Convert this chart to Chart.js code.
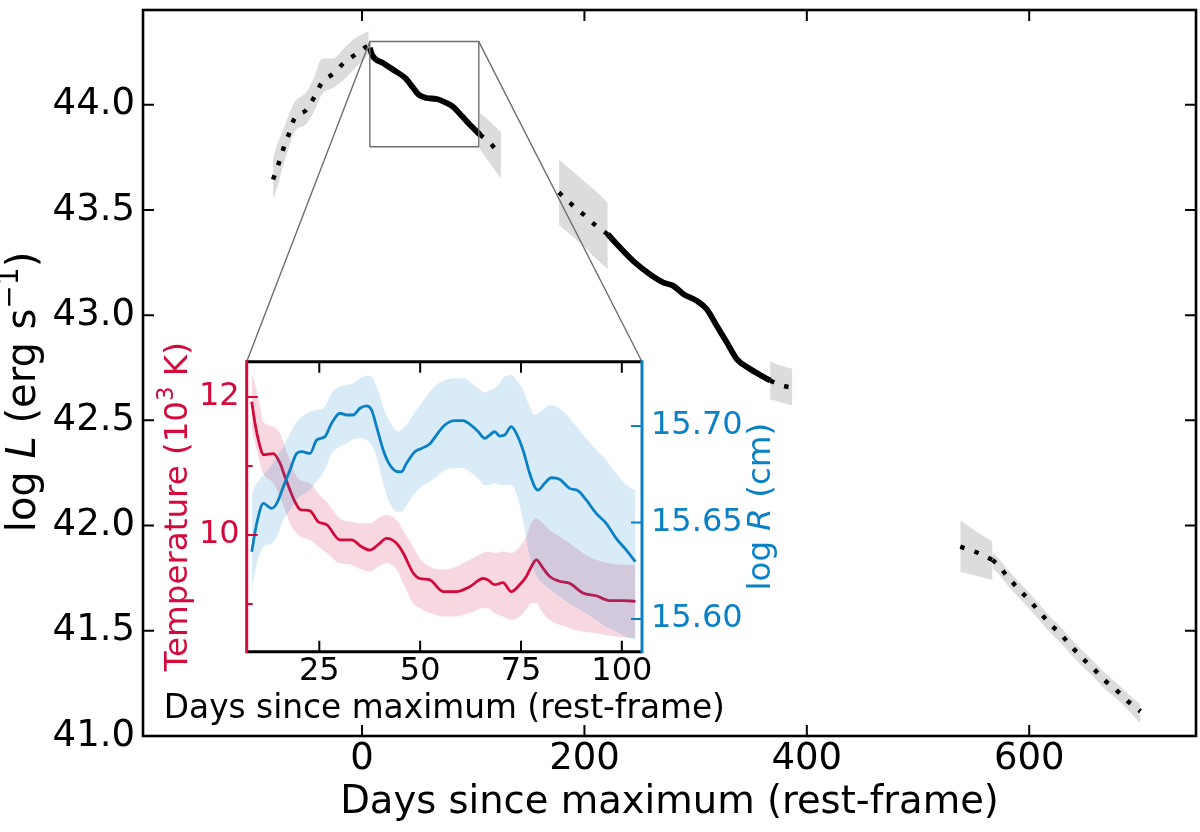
<!DOCTYPE html>
<html lang="en">
<head>
<meta charset="UTF-8" />
<title>Bolometric light curve with temperature and radius inset</title>
<style>
  body { margin: 0; background: #fff; }
  #wrap { position: relative; width: 1200px; height: 832px; }
  #wrap canvas { position: absolute; left: 0; top: 0; }
</style>
</head>
<body>
<div id="wrap">
  <canvas id="mainChart" width="1200" height="832"></canvas>
  <canvas id="insetChart" width="1200" height="832"></canvas>
</div>

<script src="https://cdn.jsdelivr.net/npm/chart.js"></script>
<script>
// ---- main panel: log L against days since maximum ----
const riseDays = [-80, -75, -71, -66, -61, -50, -43, -36, -26, -16, -5, 6];
const riseLogL = [43.645, 43.72, 43.787, 43.858, 43.932, 43.976, 44.036, 44.106, 44.147, 44.2, 44.242, 44.284];
const riseHi   = [43.75, 43.83, 43.88, 43.95, 44.01, 44.06, 44.13, 44.22, 44.22, 44.27, 44.32, 44.35];
const riseLo   = [43.55, 43.63, 43.71, 43.79, 43.87, 43.91, 43.97, 44.05, 44.08, 44.12, 44.18, 44.24];

const declDays = [7, 9, 19, 28, 39, 45, 51, 58, 67, 76, 82, 90, 97, 106];
const declLogL = [44.27, 44.237, 44.197, 44.166, 44.126, 44.087, 44.047, 44.032, 44.027, 44.008, 43.989, 43.945, 43.905, 43.858];
const declHi   = [44.285, 44.25, 44.21, 44.179, 44.139, 44.1, 44.06, 44.045, 44.04, 44.021, 44.002, 43.958, 43.918, 43.871];
const declLo   = [44.255, 44.224, 44.184, 44.153, 44.113, 44.074, 44.034, 44.019, 44.014, 43.995, 43.976, 43.932, 43.892, 43.845];

const tailDays = [106, 115, 125];
const tailLogL = [43.858, 43.818, 43.758];
const tailHi   = [43.96, 43.92, 43.87];
const tailLo   = [43.79, 43.72, 43.65];

const lateDays1 = [177, 188, 199, 210, 221];
const lateLogL1 = [43.583, 43.529, 43.479, 43.427, 43.384];
const lateHi1   = [43.74, 43.69, 43.64, 43.59, 43.534];
const lateLo1   = [43.43, 43.38, 43.33, 43.27, 43.218];

const lateDays2 = [221, 232, 244, 259, 271, 280, 289, 301, 310, 319, 328, 337, 349, 358, 367];
const lateLogL2 = [43.384, 43.321, 43.257, 43.194, 43.155, 43.139, 43.1, 43.068, 43.028, 42.949, 42.871, 42.791, 42.744, 42.716, 42.689];
const lateHi2   = [43.397, 43.334, 43.27, 43.207, 43.168, 43.152, 43.113, 43.081, 43.041, 42.962, 42.884, 42.804, 42.757, 42.729, 42.702];
const lateLo2   = [43.371, 43.308, 43.244, 43.181, 43.142, 43.126, 43.087, 43.055, 43.015, 42.936, 42.858, 42.778, 42.731, 42.703, 42.676];

const lateDays3 = [367, 377, 387];
const lateLogL3 = [42.689, 42.667, 42.655];
const lateHi3   = [42.78, 42.76, 42.745];
const lateLo3   = [42.6, 42.585, 42.57];

const nebDays1 = [538, 553, 567];
const nebLogL1 = [41.9, 41.872, 41.837];
const nebHi1   = [42.025, 41.97, 41.925];
const nebLo1   = [41.78, 41.76, 41.74];

const nebDays2 = [567, 572, 581, 590, 600, 609, 619, 629, 638, 648, 658, 668, 679, 689, 700];
const nebLogL2 = [41.837, 41.812, 41.754, 41.701, 41.646, 41.591, 41.531, 41.48, 41.425, 41.37, 41.319, 41.264, 41.215, 41.164, 41.117];
const nebHi2   = [41.872, 41.847, 41.789, 41.736, 41.681, 41.626, 41.566, 41.515, 41.46, 41.405, 41.354, 41.299, 41.25, 41.199, 41.15];
const nebLo2   = [41.797, 41.772, 41.714, 41.661, 41.606, 41.551, 41.491, 41.44, 41.385, 41.33, 41.279, 41.224, 41.175, 41.124, 41.06];

const mainDayTicks  = [0, 200, 400, 600];
const mainLogLTicks = [41.0, 41.5, 42.0, 42.5, 43.0, 43.5, 44.0];

// zoomed window shown in the inset
const zoomBoxDays = [7, 105];
const zoomBoxLogL = [43.8, 44.3];

// ---- inset: temperature and radius ----
const tempDays = [8.25, 9.08, 10.31, 11.14, 13.61, 15.26, 16.5, 17.74, 18.98, 20.21, 22.69, 24.75, 26.82, 30.12, 33.0,
  35.48, 37.54, 39.6, 41.67, 44.14, 45.79, 48.27, 49.92, 52.39, 55.69, 58.99, 62.29, 65.59, 66.83, 68.48,
  70.54, 72.61, 74.67, 76.32, 77.56, 78.8, 80.45, 82.1, 84.57, 87.05, 90.35, 93.65, 96.95, 100.25, 103.38];
const tempK = [11.93, 11.61, 11.28, 11.16, 11.18, 11.04, 10.84, 10.65, 10.48, 10.37, 10.35, 10.19, 10.15, 9.93, 9.93,
  9.83, 9.78, 9.86, 9.95, 9.88, 9.74, 9.45, 9.37, 9.35, 9.18, 9.18, 9.25, 9.37, 9.35, 9.28,
  9.31, 9.18, 9.28, 9.4, 9.54, 9.64, 9.52, 9.4, 9.33, 9.3, 9.16, 9.12, 9.05, 9.05, 9.04];
const tempHi = [12.34, 12.19, 11.86, 11.64, 11.57, 11.47, 11.28, 11.08, 10.89, 10.8, 10.75, 10.6, 10.48, 10.24, 10.19,
  10.17, 10.17, 10.24, 10.29, 10.22, 10.07, 9.83, 9.66, 9.54, 9.5, 9.54, 9.64, 9.74, 9.76, 9.74,
  9.76, 9.74, 9.83, 9.98, 10.17, 10.24, 10.17, 10.07, 9.98, 9.88, 9.74, 9.64, 9.59, 9.57, 9.57];
const tempLo = [11.52, 11.33, 11.04, 10.89, 10.75, 10.55, 10.36, 10.17, 10.05, 9.98, 9.93, 9.83, 9.74, 9.59, 9.57,
  9.5, 9.47, 9.54, 9.59, 9.5, 9.3, 9.01, 8.94, 8.87, 8.82, 8.82, 8.87, 8.94, 8.94, 8.87,
  8.82, 8.77, 8.82, 8.92, 9.01, 9.01, 8.87, 8.77, 8.7, 8.65, 8.6, 8.58, 8.54, 8.52, 8.51];

const radDays = [8.25, 9.49, 11.14, 13.2, 14.44, 16.09, 17.74, 19.39, 20.63, 22.69, 24.34, 26.4, 28.05, 30.12, 31.77,
  33.42, 35.07, 36.72, 37.95, 39.19, 40.84, 42.49, 44.55, 45.38, 46.62, 48.68, 50.33, 52.39, 54.04, 56.11,
  58.58, 60.64, 62.29, 64.36, 66.01, 67.24, 68.48, 69.72, 70.96, 72.61, 73.84, 75.5, 77.15, 78.38, 79.21,
  80.86, 82.51, 84.57, 87.05, 89.11, 91.17, 93.65, 96.12, 98.6, 101.07, 103.38];
const radLogR = [15.6349, 15.6496, 15.6599, 15.6573, 15.6599, 15.6686, 15.6772, 15.6858, 15.6867, 15.6858, 15.6927, 15.6945, 15.7014, 15.7066, 15.7057,
  15.7057, 15.7092, 15.7104, 15.7083, 15.6997, 15.6876, 15.6798, 15.6763, 15.6763, 15.6807, 15.6867, 15.6884, 15.6907, 15.6953, 15.7005,
  15.7028, 15.7028, 15.701, 15.6971, 15.6936, 15.6953, 15.6971, 15.6948, 15.6953, 15.6997, 15.6962, 15.6876, 15.6755, 15.6686, 15.6668,
  15.6703, 15.6732, 15.6724, 15.6677, 15.6665, 15.6617, 15.6547, 15.6496, 15.6418, 15.6358, 15.6297];
const radHi = [15.6651, 15.6703, 15.6746, 15.6798, 15.6841, 15.6893, 15.6962, 15.7022, 15.7048, 15.7074, 15.7083, 15.71, 15.7169, 15.7204, 15.7212,
  15.7221, 15.7247, 15.7259, 15.7256, 15.7204, 15.71, 15.7022, 15.6971, 15.6979, 15.7005, 15.7074, 15.7117, 15.7178, 15.7212, 15.7238,
  15.7247, 15.7247, 15.723, 15.7195, 15.7173, 15.7183, 15.7195, 15.7221, 15.7256, 15.7264, 15.7238, 15.7187, 15.71, 15.7057, 15.7066,
  15.7092, 15.7109, 15.7092, 15.704, 15.6988, 15.6936, 15.6876, 15.6824, 15.6755, 15.6694, 15.6668];
const radLo = [15.615, 15.6288, 15.6375, 15.6392, 15.6427, 15.6513, 15.6565, 15.6617, 15.6642, 15.6668, 15.6712, 15.6772, 15.6858, 15.6893, 15.691,
  15.6931, 15.6936, 15.6927, 15.6902, 15.6841, 15.6703, 15.6599, 15.6556, 15.6556, 15.6591, 15.6651, 15.6686, 15.6712, 15.6737, 15.6772,
  15.6781, 15.6781, 15.6763, 15.6729, 15.6694, 15.6694, 15.6703, 15.6694, 15.6694, 15.6694, 15.6651, 15.6513, 15.6323, 15.6245, 15.6211,
  15.6176, 15.615, 15.6116, 15.6081, 15.6055, 15.6029, 15.5995, 15.596, 15.5934, 15.5908, 15.5891];

const insetDayTicks = [25, 50, 75, 100];
const tempTicks     = [9, 10, 11, 12];
const tempLabelled  = [10, 12];
const radTicks      = [15.60, 15.65, 15.70];

const FONT = 'DejaVu Sans';
const RED = '#d40a3c';
const BLUE = '#0a80c6';
const GREY = '#dcdcdc';

Chart.defaults.font.family = FONT;
Chart.defaults.color = '#000';

const pts = (xs, ys) => xs.map((x, i) => ({ x: x, y: ys[i] }));

function band(xs, lo, hi, color, axis) {
  const common = { borderWidth: 0, borderColor: 'transparent', pointRadius: 0, order: 5, cubicInterpolationMode: 'monotone' };
  if (axis) common.yAxisID = axis;
  return [
    Object.assign({ data: pts(xs, hi), fill: '+1', backgroundColor: color }, common),
    Object.assign({ data: pts(xs, lo), fill: false }, common)
  ];
}

function curve(xs, ys, dotted) {
  return {
    data: pts(xs, ys), borderColor: '#000', fill: false, pointRadius: 0, order: 1,
    borderWidth: dotted ? 4.5 : 5.8,
    borderDash: dotted ? [4.5, 10.5] : [],
    borderCapStyle: 'butt',
    cubicInterpolationMode: 'monotone'
  };
}

// paints a rotated or flat label made of plain / italic / superscript pieces
function drawRich(ctx, parts, size, color, x, y, rotated) {
  ctx.save();
  ctx.translate(x, y);
  if (rotated) ctx.rotate(-Math.PI / 2);
  ctx.fillStyle = color;
  ctx.textBaseline = 'alphabetic';
  ctx.textAlign = 'left';
  const fontOf = p => (p.i ? 'italic ' : '') + (size * (p.sup ? 0.7 : 1)).toFixed(1) + 'px "' + FONT + '"';
  let total = 0;
  parts.forEach(p => { ctx.font = fontOf(p); total += ctx.measureText(p.t).width; });
  let cx = -total / 2;
  parts.forEach(p => {
    ctx.font = fontOf(p);
    ctx.fillText(p.t, cx, p.sup ? -size * 0.42 : 0);
    cx += ctx.measureText(p.t).width;
  });
  ctx.restore();
}

function tickLines(ctx, pixels, fixed, len, vertical) {
  pixels.forEach(p => {
    if (vertical) { ctx.moveTo(p, fixed); ctx.lineTo(p, fixed + len); }
    else { ctx.moveTo(fixed, p); ctx.lineTo(fixed + len, p); }
  });
}

// fixes the room given to an axis so the plot area lands where wanted
function fitTo(size) {
  return scale => {
    if (scale.isHorizontal()) scale.height = size; else scale.width = size;
    scale.paddingTop = 0; scale.paddingBottom = 0;
    scale.paddingLeft = 0; scale.paddingRight = 0;
  };
}

// ---------------- inset chart ----------------
const insetFrame = {
  id: 'insetFrame',
  afterDatasetsDraw(chart) {
    const { ctx, chartArea: a, scales } = chart;
    ctx.save();
    ctx.lineWidth = 2;
    ctx.strokeStyle = '#000';
    ctx.beginPath();
    const xs = insetDayTicks.map(v => scales.x.getPixelForValue(v));
    tickLines(ctx, xs, a.bottom, -11, true);
    tickLines(ctx, xs, a.top, 11, true);
    ctx.stroke();

    ctx.strokeStyle = RED;
    ctx.beginPath();
    tempTicks.forEach(v => {
      const len = tempLabelled.includes(v) ? 11 : 6;
      tickLines(ctx, [scales.yT.getPixelForValue(v)], a.left, len, false);
    });
    ctx.stroke();

    ctx.strokeStyle = BLUE;
    ctx.beginPath();
    tickLines(ctx, radTicks.map(v => scales.yR.getPixelForValue(v)), a.right, -11, false);
    ctx.stroke();

    ctx.lineWidth = 3;
    const seg = (c, x1, y1, x2, y2) => {
      ctx.strokeStyle = c; ctx.beginPath(); ctx.moveTo(x1, y1); ctx.lineTo(x2, y2); ctx.stroke();
    };
    seg('#000', a.left, a.top, a.right, a.top);
    seg('#000', a.left, a.bottom, a.right, a.bottom);
    seg(RED, a.left, a.top - 1.5, a.left, a.bottom + 1.5);
    seg(BLUE, a.right, a.top - 1.5, a.right, a.bottom + 1.5);

    const midY = (a.top + a.bottom) / 2;
    drawRich(ctx, [{ t: 'Temperature (10' }, { t: '3', sup: true }, { t: ' K)' }], 32.5, RED, a.left - 60, midY, true);
    drawRich(ctx, [{ t: 'log ' }, { t: 'R', i: true }, { t: ' (cm)' }], 32.5, BLUE, a.right + 128, midY, true);
    drawRich(ctx, [{ t: 'Days since maximum (rest-frame)' }], 32.8, '#000', (a.left + a.right) / 2, a.bottom + 66.6, false);
    ctx.restore();
  }
};

const insetChart = new Chart(document.getElementById('insetChart'), {
  type: 'line',
  data: {
    datasets: [
      ...band(tempDays, tempLo, tempHi, 'rgba(212,10,60,0.16)', 'yT').map(d => Object.assign(d, { order: 4 })),
      { data: pts(tempDays, tempK), yAxisID: 'yT', borderColor: RED, borderWidth: 2.8, pointRadius: 0, fill: false, order: 3, cubicInterpolationMode: 'monotone' },
      ...band(radDays, radLo, radHi, 'rgba(10,128,198,0.16)', 'yR').map(d => Object.assign(d, { order: 2 })),
      { data: pts(radDays, radLogR), yAxisID: 'yR', borderColor: BLUE, borderWidth: 2.8, pointRadius: 0, fill: false, order: 1, cubicInterpolationMode: 'monotone' }
    ]
  },
  options: {
    responsive: false,
    animation: false,
    layout: { padding: { left: 146.7, right: 418, top: 361.7, bottom: 100.3 } },
    plugins: { legend: { display: false }, tooltip: { enabled: false } },
    scales: {
      x: {
        type: 'linear', min: zoomBoxDays[0], max: zoomBoxDays[1],
        afterFit: fitTo(80),
        afterBuildTicks: s => { s.ticks = insetDayTicks.map(v => ({ value: v })); },
        grid: { display: false, drawTicks: false }, border: { display: false },
        ticks: { font: { size: 32 }, padding: 1, autoSkip: false, maxRotation: 0, minRotation: 0, callback: v => String(v) }
      },
      yT: {
        type: 'linear', position: 'left', min: 8.31, max: 12.51,
        afterFit: fitTo(100),
        afterBuildTicks: s => { s.ticks = tempTicks.map(v => ({ value: v })); },
        grid: { display: false, drawTicks: false }, border: { display: false },
        ticks: { font: { size: 32 }, color: RED, padding: 7, autoSkip: false,
                 callback: v => tempLabelled.includes(v) ? String(v) : '' }
      },
      yR: {
        type: 'linear', position: 'right', min: 15.5831, max: 15.7333,
        afterFit: fitTo(140),
        afterBuildTicks: s => { s.ticks = radTicks.map(v => ({ value: v })); },
        grid: { display: false, drawTicks: false }, border: { display: false },
        ticks: { font: { size: 32 }, color: BLUE, padding: 9, autoSkip: false, callback: v => v.toFixed(2) }
      }
    }
  },
  plugins: [insetFrame]
});

// ---------------- main chart ----------------
const mainFrame = {
  id: 'mainFrame',
  afterDatasetsDraw(chart) {
    const { ctx, chartArea: a, scales } = chart;
    ctx.save();
    ctx.strokeStyle = '#000';
    ctx.lineWidth = 2;
    ctx.beginPath();
    const xs = mainDayTicks.map(v => scales.x.getPixelForValue(v));
    const ys = mainLogLTicks.map(v => scales.y.getPixelForValue(v));
    tickLines(ctx, xs, a.bottom, -11, true);
    tickLines(ctx, xs, a.top, 11, true);
    tickLines(ctx, ys, a.left, 11, false);
    tickLines(ctx, ys, a.right, -11, false);
    ctx.stroke();
    ctx.lineWidth = 2.6;
    ctx.strokeRect(a.left, a.top, a.right - a.left, a.bottom - a.top);

    // lines joining the zoom window to the inset corners
    const ia = insetChart.chartArea;
    const boxTop = scales.y.getPixelForValue(zoomBoxLogL[1]);
    ctx.strokeStyle = '#6e6e6e';
    ctx.lineWidth = 1.4;
    ctx.beginPath();
    ctx.moveTo(scales.x.getPixelForValue(zoomBoxDays[0]), boxTop);
    ctx.lineTo(ia.left, ia.top);
    ctx.moveTo(scales.x.getPixelForValue(zoomBoxDays[1]), boxTop);
    ctx.lineTo(ia.right, ia.top);
    ctx.stroke();

    drawRich(ctx, [{ t: 'log ' }, { t: 'L', i: true }, { t: ' (erg s' }, { t: '\u22121', sup: true }, { t: ')' }],
      40, '#000', a.left - 108, (a.top + a.bottom) / 2 + 19, true);
    drawRich(ctx, [{ t: 'Days since maximum (rest-frame)' }], 38.5, '#000', (a.left + a.right) / 2, a.bottom + 77, false);
    ctx.restore();
  }
};

const mainDatasets = [
  ...band(riseDays, riseLo, riseHi, GREY),
  ...band(declDays, declLo, declHi, GREY),
  ...band(tailDays, tailLo, tailHi, GREY),
  ...band(lateDays1, lateLo1, lateHi1, GREY),
  ...band(lateDays2, lateLo2, lateHi2, GREY),
  ...band(lateDays3, lateLo3, lateHi3, GREY),
  ...band(nebDays1, nebLo1, nebHi1, GREY),
  ...band(nebDays2, nebLo2, nebHi2, GREY),
  curve(riseDays, riseLogL, true),
  curve(declDays, declLogL, false),
  curve(tailDays, tailLogL, true),
  curve(lateDays1, lateLogL1, true),
  curve(lateDays2, lateLogL2, false),
  curve(lateDays3, lateLogL3, true),
  curve(nebDays1, nebLogL1, true),
  curve(nebDays2, nebLogL2, true),
  {
    data: pts([zoomBoxDays[0], zoomBoxDays[1], zoomBoxDays[1], zoomBoxDays[0], zoomBoxDays[0]],
              [zoomBoxLogL[0], zoomBoxLogL[0], zoomBoxLogL[1], zoomBoxLogL[1], zoomBoxLogL[0]]),
    borderColor: '#6e6e6e', borderWidth: 1.4, pointRadius: 0, fill: false, order: 0, tension: 0
  }
];

new Chart(document.getElementById('mainChart'), {
  type: 'line',
  data: { datasets: mainDatasets },
  options: {
    responsive: false,
    animation: false,
    layout: { padding: { left: 0, right: 4, top: 10, bottom: 0 } },
    plugins: { legend: { display: false }, tooltip: { enabled: false } },
    scales: {
      x: {
        type: 'linear', min: -197, max: 750,
        afterFit: fitTo(96),
        afterBuildTicks: s => { s.ticks = mainDayTicks.map(v => ({ value: v })); },
        grid: { display: false, drawTicks: false }, border: { display: false },
        ticks: { font: { size: 37 }, padding: 1, autoSkip: false, maxRotation: 0, minRotation: 0, callback: v => String(v) }
      },
      y: {
        type: 'linear', min: 41.0, max: 44.45,
        afterFit: fitTo(143),
        afterBuildTicks: s => { s.ticks = mainLogLTicks.map(v => ({ value: v })); },
        grid: { display: false, drawTicks: false }, border: { display: false },
        ticks: { font: { size: 37 }, padding: 8, autoSkip: false, callback: v => v.toFixed(1) }
      }
    }
  },
  plugins: [mainFrame]
});
</script>
</body>
</html>
